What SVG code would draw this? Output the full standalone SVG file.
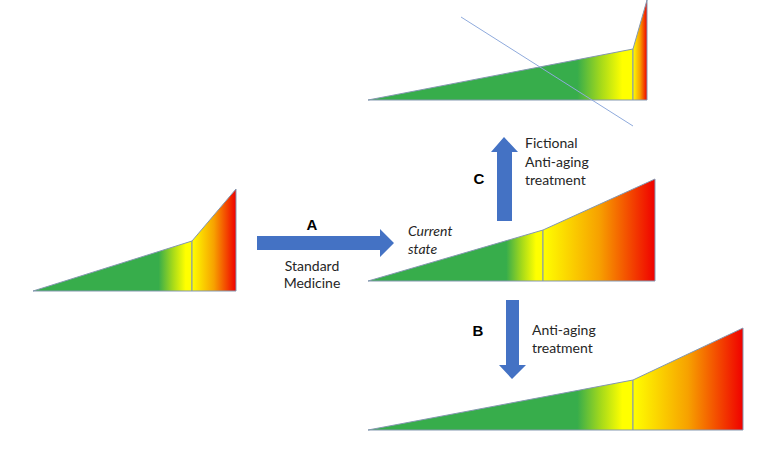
<svg xmlns="http://www.w3.org/2000/svg" width="779" height="449" viewBox="0 0 779 449">
<defs>
<linearGradient id="gL" x1="0" y1="0" x2="1" y2="0">
<stop offset="0" stop-color="#37AD4B"/>
<stop offset="0.79" stop-color="#37AD4B"/>
<stop offset="0.88" stop-color="#A6DA1A"/>
<stop offset="0.96" stop-color="#FFFF00"/>
<stop offset="1" stop-color="#FFFF00"/>
</linearGradient>
<linearGradient id="gR" x1="0" y1="0" x2="1" y2="0">
<stop offset="0" stop-color="#FFFF00"/>
<stop offset="0.15" stop-color="#FCE300"/>
<stop offset="0.5" stop-color="#F7A100"/>
<stop offset="1" stop-color="#F00000"/>
</linearGradient>
<style>
.l{fill:url(#gL);stroke:#8497B0;stroke-width:1}
.r{fill:url(#gR);stroke:#8497B0;stroke-width:1}
.arr{fill:#4472C4}
.t{font-family:Lato,"Liberation Sans",Arial,sans-serif;font-size:14px;fill:#262626}
.b{font-family:"Liberation Sans",Arial,sans-serif;font-size:15px;font-weight:bold;fill:#000}
.i{font-style:italic}
</style>
</defs>
<rect width="779" height="449" fill="#fff"/>
<g id="shape-left">
<polygon class="l" points="33,291 192,241 192,291"/>
<polygon class="r" points="192,291 192,241 236,189 236,291"/>
</g>
<g id="shape-top">
<polygon class="l" points="368,100 633,49 633,100"/>
<polygon class="r" points="633,100 633,49 647,0 647,100"/>
<line x1="461" y1="17" x2="633" y2="126" stroke="#8FAADC" stroke-width="1"/>
</g>
<g id="shape-middle">
<polygon class="l" points="368,281 543,230 543,281"/>
<polygon class="r" points="543,281 543,230 655,179 655,281"/>
<text class="t i" x="408" y="236">Current</text>
<text class="t i" x="408" y="254">state</text>
</g>
<g id="shape-bottom">
<polygon class="l" points="368,430 633,380 633,430"/>
<polygon class="r" points="633,430 633,380 743,328 743,430"/>
</g>
<g id="connectors">
<g id="arrow-A">
<polygon class="arr" points="257,236 380,236 380,229 394,243 380,257 380,250 257,250"/>
<text class="b" x="312" y="230" text-anchor="middle">A</text>
<text class="t" x="312" y="271" text-anchor="middle">Standard</text>
<text class="t" x="312" y="288" text-anchor="middle">Medicine</text>
</g>
<g id="arrow-C">
<polygon class="arr" points="497,221 497,152 491,152 504,137 518,152 512,152 512,221"/>
<text class="b" x="479" y="184" text-anchor="middle">C</text>
<text class="t" x="525" y="148">Fictional</text>
<text class="t" x="525" y="167">Anti-aging</text>
<text class="t" x="525" y="185">treatment</text>
</g>
<g id="arrow-B">
<polygon class="arr" points="506,300 519,300 519,365 526,365 512,379 499,365 506,365"/>
<text class="b" x="478" y="336" text-anchor="middle">B</text>
<text class="t" x="532" y="335">Anti-aging</text>
<text class="t" x="532" y="353">treatment</text>
</g>
</g>
</svg>
